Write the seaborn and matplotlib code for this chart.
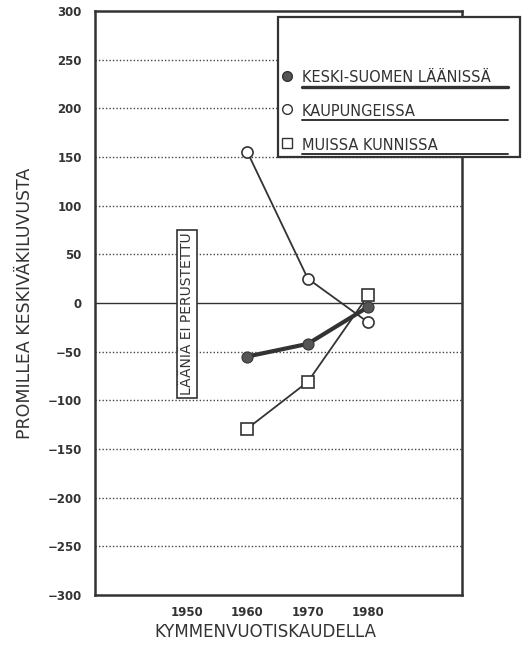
import seaborn as sns
import matplotlib.pyplot as plt
import pandas as pd
from matplotlib.patches import Rectangle
from matplotlib.lines import Line2D

years = [1960, 1970, 1980]
keski_suomi = [-55, -42, -4]
kaupungit = [155, 25, -20]
muut_kunnat = [-129, -81, 8]

labels = ["KESKI-SUOMEN LÄÄNISSÄ", "KAUPUNGEISSA", "MUISSA KUNNISSA"]
x_labels = [1950, 1960, 1970, 1980]
y_ticks = list(range(-300, 301, 50))

sns.set_style("white")
plt.rcParams['font.family'] = ['DejaVu Sans']

fig = plt.figure(figsize=(5.31, 6.46), dpi=100)
ax = fig.add_axes([0.179, 0.079, 0.691, 0.904])

df = pd.DataFrame({"vuosi": years, "keski": keski_suomi,
                   "kaup": kaupungit, "muut": muut_kunnat})

# grid first so lines sit on top
for y in y_ticks[1:-1]:
    if y == 0:
        ax.axhline(0, color="#333", lw=1.0, zorder=1)
    else:
        ax.axhline(y, color="#444", lw=1.0, ls=(0, (1, 1.5)), zorder=1)

sns.lineplot(data=df, x="vuosi", y="kaup", ax=ax, color="#333", lw=1.3,
             marker="o", markersize=8, markerfacecolor="white",
             markeredgecolor="#333", markeredgewidth=1.2, zorder=3)
sns.lineplot(data=df, x="vuosi", y="muut", ax=ax, color="#333", lw=1.3,
             marker="s", markersize=8, markerfacecolor="white",
             markeredgecolor="#333", markeredgewidth=1.2, zorder=3)
sns.lineplot(data=df, x="vuosi", y="keski", ax=ax, color="#333", lw=3,
             marker="o", markersize=8, markerfacecolor="#555",
             markeredgecolor="#333", zorder=4)

ax.set_xlim(1934.8, 1995.5)
ax.set_ylim(-300, 300)
ax.set_yticks(y_ticks)
ax.set_yticklabels([str(v).replace("-", "\u2212") for v in y_ticks],
                   fontsize=8.5, fontweight="bold", color="#333")
ax.set_xticks([1945, 1955, 1965, 1975, 1985])
ax.set_xticklabels([])
ax.tick_params(axis="both", direction="out", length=6, width=1.2, color="#333")
for xl in x_labels:
    ax.text(xl, -311, str(xl), ha="center", va="top", fontsize=8.5,
            fontweight="bold", color="#333")
ax.set_xlabel("")
ax.set_ylabel("PROMILLEA KESKIVÄKILUVUSTA", fontsize=12.5, color="#333",
              labelpad=10)
fig.text(0.5, 0.022, "KYMMENVUOTISKAUDELLA", ha="center", va="center",
         fontsize=12, color="#333")
for s in ax.spines.values():
    s.set_linewidth(1.8)
    s.set_color("#333")

ax.text(1950, -11, "LÄÄNIÄ EI PERUSTETTU", rotation=90, ha="center",
        va="center", fontsize=10, color="#333", zorder=5,
        bbox=dict(boxstyle="square,pad=0.2", fc="white", ec="#333", lw=1.2))

# legend box (figure pixels -> fraction)
W, H = 531, 646
fig.add_artist(Rectangle((278 / W, 1 - 157 / H), 242 / W, 140 / H,
                         transform=fig.transFigure, fc="white", ec="#333",
                         lw=1.6, zorder=10))
styles = [dict(marker="o", mfc="#555", mec="#333"),
          dict(marker="o", mfc="white", mec="#333"),
          dict(marker="s", mfc="white", mec="#333")]
rows = [76, 109, 143]
for lab, st, yy in zip(labels, styles, rows):
    fig.add_artist(Line2D([287 / W], [1 - yy / H], transform=fig.transFigure,
                          ls="none", markersize=7, zorder=11, **st))
    fig.text(302 / W, 1 - (yy + 2) / H, lab, ha="left", va="center",
             fontsize=10.5, color="#333", zorder=11)
    lw = 2.4 if yy == 76 else 1.4
    fig.add_artist(Line2D([302 / W, 508 / W], [1 - (yy + 11) / H] * 2,
                          transform=fig.transFigure, color="#333", lw=lw,
                          zorder=11))

plt.savefig("out.png", dpi=100)
